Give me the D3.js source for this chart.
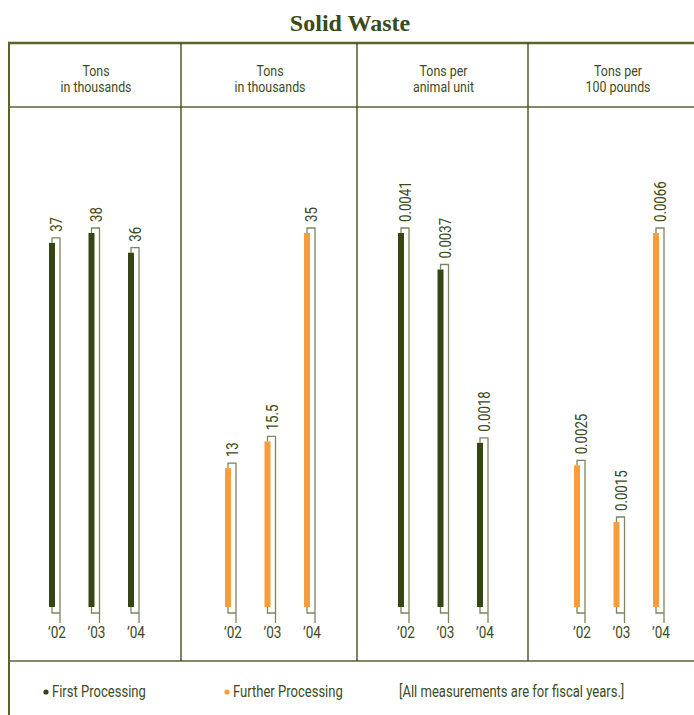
<!DOCTYPE html>
<html><head><meta charset="utf-8">
<script src="https://cdn.jsdelivr.net/npm/d3@7"></script>
<style>
html,body{margin:0;padding:0;background:#fff;}
svg{display:block;}
.cond{font-family:Roboto,"Liberation Sans",sans-serif;}
</style></head>
<body>
<script>
// ---- data ----
const title = "Solid Waste";
const years = ["’02", "’03", "’04"];
const panelUnits = [
  ["Tons", "in thousands"],
  ["Tons", "in thousands"],
  ["Tons per", "animal unit"],
  ["Tons per", "100 pounds"]
];
const panelSeries = ["first", "further", "first", "further"];
const firstTons = [37, 38, 36];
const furtherTons = [13, 15.5, 35];
const firstPerAnimalUnit = [0.0041, 0.0037, 0.0018];
const furtherPer100Pounds = [0.0025, 0.0015, 0.0066];
const legendItems = [
  {key: "first", label: "First Processing"},
  {key: "further", label: "Further Processing"}
];
const note = "[All measurements are for fiscal years.]";

// ---- layout ----
const W = 694, H = 715;
const colors = {first: "#354513", further: "#f89c3c"};
const ink = "#3d4b1c";
const lineCol = "#55652c";
const bracketCol = "#7a8660";
const panelEdges = [9, 181, 357, 528, 700];
const barStarts = [49, 225, 398, 574];
const barSpan = 79;
const barW = 6;
const yTop = 233, yBase = 607;
const SX = 0.8;
const panelValues = [firstTons, furtherTons, firstPerAnimalUnit, furtherPer100Pounds];

const svg = d3.select("body").append("svg").attr("width", W).attr("height", H);

function cText(parent, x, y, str, size, anchor, rot) {
  return parent.append("text").attr("class", "cond")
    .attr("transform", `translate(${x},${y})${rot ? " rotate(" + rot + ")" : ""} scale(${SX},1)`)
    .attr("text-anchor", anchor || "start").attr("font-size", size).attr("fill", ink).text(str);
}

svg.append("text").attr("x", 350).attr("y", 31).attr("text-anchor", "middle")
  .attr("font-family", "'Liberation Serif','DejaVu Serif',serif").attr("font-weight", "bold")
  .attr("font-size", 24).attr("fill", "#3a4a18").text(title);

// frame
const g = svg.append("g");
g.append("line").attr("x1", 8).attr("x2", W).attr("y1", 43).attr("y2", 43).attr("stroke", lineCol).attr("stroke-width", 2.4);
g.append("line").attr("x1", 9).attr("x2", 9).attr("y1", 42).attr("y2", H).attr("stroke", lineCol).attr("stroke-width", 2);
g.append("line").attr("x1", 9).attr("x2", W).attr("y1", 107).attr("y2", 107).attr("stroke", lineCol).attr("stroke-width", 1.4);
g.append("line").attr("x1", 9).attr("x2", W).attr("y1", 661).attr("y2", 661).attr("stroke", lineCol).attr("stroke-width", 1.4);
panelEdges.slice(1, 4).forEach(x => {
  g.append("line").attr("x1", x).attr("x2", x).attr("y1", 43).attr("y2", 661).attr("stroke", "#34420f").attr("stroke-width", 1.3);
});

panelValues.forEach((vals, p) => {
  const left = panelEdges[p], right = panelEdges[p + 1];
  const cx = (left + right) / 2 + (p === 3 ? 4 : 1);
  cText(svg, cx, 76, panelUnits[p][0], 15.5, "middle");
  cText(svg, cx, 92, panelUnits[p][1], 15.5, "middle");

  const x = d3.scalePoint().domain(years).range([barStarts[p], barStarts[p] + barSpan]);
  const y = d3.scaleLinear().domain([0, d3.max(vals)]).range([yBase, yTop]);
  const col = colors[panelSeries[p]];
  const data = years.map((yr, i) => ({yr, v: vals[i]}));
  const pg = svg.append("g");

  pg.selectAll("rect").data(data).join("rect")
    .attr("x", d => x(d.yr)).attr("y", d => y(d.v))
    .attr("width", barW).attr("height", d => y(0) - y(d.v))
    .attr("fill", col);

  pg.selectAll("path.br").data(data).join("path").attr("class", "br")
    .attr("fill", "none").attr("stroke", bracketCol).attr("stroke-width", 1.3)
    .attr("d", d => {
      const bx = x(d.yr) + 3, rx = x(d.yr) + 11, ty = y(d.v) - 5;
      return `M${bx},${y(d.v)}V${ty}H${rx}V${y(0) + 16}M${bx},${y(0)}V${y(0) + 6}H${rx}`;
    });

  data.forEach(d => {
    cText(pg, x(d.yr) + 13, y(d.v) - 11, String(d.v), 16.5, "start", -90);
    cText(pg, x(d.yr) + 8, 638, d.yr, 17, "middle");
  });
});

// legend
const legX = [46, 227];
legendItems.forEach((it, i) => {
  svg.append("circle").attr("cx", legX[i]).attr("cy", 692).attr("r", 2.6).attr("fill", colors[it.key]);
  cText(svg, legX[i] + 6, 697, it.label, 16.3, "start");
});
cText(svg, 399, 697, note, 16.3, "start");
</script>
</body></html>
